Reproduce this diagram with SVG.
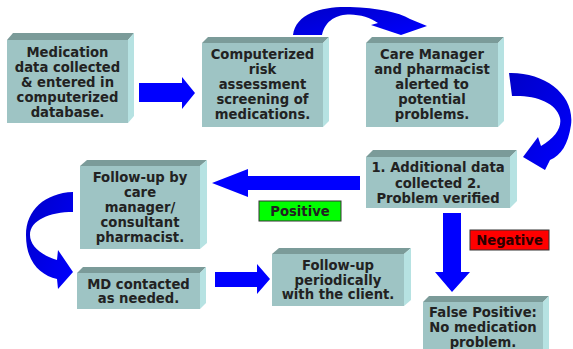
<svg xmlns="http://www.w3.org/2000/svg" width="573" height="349" viewBox="0 0 573 349">
<defs>
<style>
.face{fill:#9EC4C4}
.top{fill:#7B9B99}
.side{fill:#B6E2E2}
.arr{fill:#0000FF}
.arc{fill:url(#arcg)}
text{font-family:"DejaVu Sans",Verdana,sans-serif;font-weight:bold;font-size:13.2px;fill:#222;text-anchor:middle}
.lbl{stroke:#333;stroke-width:1}
</style>
<linearGradient id="arcg" x1="0" y1="0" x2="1" y2="1">
<stop offset="0" stop-color="#0000C8"/>
<stop offset="1" stop-color="#0000FF"/>
</linearGradient>
</defs>
<rect width="573" height="349" fill="#FFFFFF"/>

<g id="connectors">
<path class="arr" d="M139,83 H182 V77 L195,93 L182,109 V102 H139 Z"/>
<path class="arc" d="M293,35 C296,12 325,6 350,7 C378,8 398,12 410,19 L427,26 L401,35 L371,25 L378,23 C362,12 328,8 322,35 Z"/>
<path class="arc" d="M509,73 C545,72 575,95 571,125 C568,145 561,155 550,160 L545,170 L523,157 L538,137 L541,146 C555,138 562,128 560,118 C556,102 535,95 512,96 Z"/>
<path class="arr" d="M360,176 H248 V169 L212,183 L248,197 V190 H360 Z"/>
<path class="arc" d="M73,192 C45,193 26,210 26,235 C26,262 40,275 57,279 L58,289 L73,272 L58,250 L57,260 C40,255 30,245 30,235 C30,220 50,212 73,212 Z"/>
<path class="arr" d="M215,272 H257 V264 L270,279 L257,294 V287 H215 Z"/>
<path class="arr" d="M443,213 H461 V272 H470 L452,292 L435,272 H443 Z"/>
</g>

<g id="node-medication">
<polygon class="top" points="7,40 13,33 134,33 128,40"/>
<polygon class="side" points="128,40 134,33 134,116 128,123"/>
<rect class="face" x="7" y="40" width="121" height="83"/>
<text x="67.5" y="56.5">Medication</text>
<text x="67.5" y="71.7">data collected</text>
<text x="67.5" y="86.9">&amp; entered in</text>
<text x="67.5" y="102.1">computerized</text>
<text x="67.5" y="117.3">database.</text>
</g>

<g id="node-risk">
<polygon class="top" points="202,43 208,37 329,37 323,43"/>
<polygon class="side" points="323,43 329,37 329,121 323,127"/>
<rect class="face" x="202" y="43" width="121" height="84"/>
<text x="262.5" y="59">Computerized</text>
<text x="262.5" y="74">risk</text>
<text x="262.5" y="89">assessment</text>
<text x="262.5" y="104">screening of</text>
<text x="262.5" y="119">medications.</text>
</g>

<g id="node-alert">
<polygon class="top" points="366,43 372,37 504,37 498,43"/>
<polygon class="side" points="498,43 504,37 504,121 498,127"/>
<rect class="face" x="366" y="43" width="132" height="84"/>
<text x="432" y="59">Care Manager</text>
<text x="432" y="74">and pharmacist</text>
<text x="432" y="89">alerted to</text>
<text x="432" y="104">potential</text>
<text x="432" y="119">problems.</text>
</g>

<g id="node-additional">
<polygon class="top" points="366,157 373,150 517,150 510,157"/>
<polygon class="side" points="510,157 517,150 517,201 510,208"/>
<rect class="face" x="366" y="157" width="144" height="51"/>
<text x="438" y="172">1. Additional data</text>
<text x="438" y="188">collected 2.</text>
<text x="438" y="203">Problem verified</text>
</g>

<g id="node-followup-care">
<polygon class="top" points="80,166 87,160 207,160 200,166"/>
<polygon class="side" points="200,166 207,160 207,243 200,249"/>
<rect class="face" x="80" y="166" width="120" height="83"/>
<text x="140" y="182">Follow-up by</text>
<text x="140" y="197">care</text>
<text x="140" y="212">manager/</text>
<text x="140" y="227">consultant</text>
<text x="140" y="242">pharmacist.</text>
</g>

<g id="node-md">
<polygon class="top" points="77,273 83,267 206,267 200,273"/>
<polygon class="side" points="200,273 206,267 206,303 200,309"/>
<rect class="face" x="77" y="273" width="123" height="36"/>
<text x="138.5" y="289">MD contacted</text>
<text x="138.5" y="303">as needed.</text>
</g>

<g id="node-periodic">
<polygon class="top" points="272,254 279,248 411,248 404,254"/>
<polygon class="side" points="404,254 411,248 411,300 404,306"/>
<rect class="face" x="272" y="254" width="132" height="52"/>
<text x="338" y="270">Follow-up</text>
<text x="338" y="285">periodically</text>
<text x="338" y="299">with the client.</text>
</g>

<g id="node-false-positive">
<polygon class="top" points="423,302 429,296 549,296 543,302"/>
<polygon class="side" points="543,302 549,296 549,349 543,349"/>
<rect class="face" x="423" y="302" width="120" height="50"/>
<text x="483" y="317">False Positive:</text>
<text x="483" y="332">No medication</text>
<text x="483" y="347">problem.</text>
</g>

<g id="label-positive">
<rect class="lbl" x="259" y="201" width="82" height="20" fill="#00FF00"/>
<text x="300" y="216">Positive</text>
</g>
<g id="label-negative">
<rect class="lbl" x="470" y="230" width="79" height="20" fill="#FF0000"/>
<text x="509.5" y="245" style="fill:#2A0000">Negative</text>
</g>
</svg>
